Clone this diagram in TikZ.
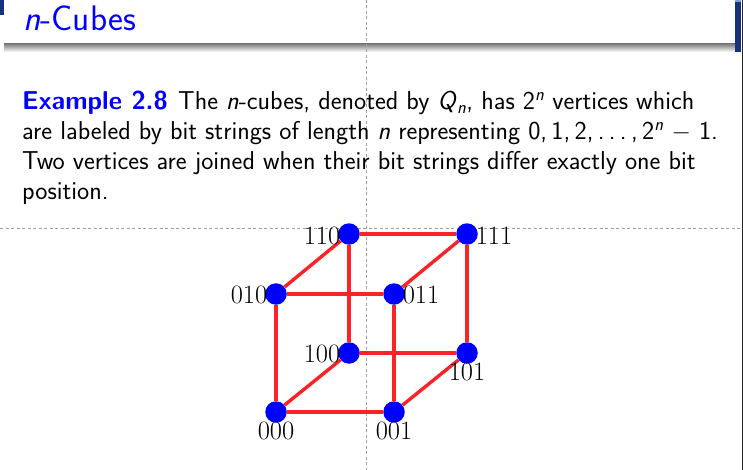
\documentclass[tikz,border=0pt]{standalone}
\usetikzlibrary{calc}
\definecolor{barblue}{RGB}{24,48,128}
\definecolor{barlight}{RGB}{110,170,225}
\definecolor{guide}{RGB}{160,160,160}
\definecolor{edgered}{RGB}{250,35,40}
\newcommand{\bodysize}{\fontsize{25.85}{30}\selectfont\sffamily}
\tikzset{
  x=1pt,y=-1pt,
  vertexdot/.style={circle,fill=blue,draw=none,minimum size=21.5pt,inner sep=0pt},
  cubeedge/.style={draw=edgered,line width=3.4pt},
  guideline/.style={draw=guide,line width=0.7pt,dash pattern=on 3pt off 2.5pt},
  bodyline/.style={anchor=base west,inner sep=0pt,font=\bodysize,text=black},
  vlabel/.style={inner sep=0pt,font=\fontsize{26.5}{26.5}\selectfont,text=black,anchor=base}
}
\begin{document}
\begin{tikzpicture}
\useasboundingbox (0,0) rectangle (743,470);
\fill[white] (0,0) rectangle (743,470);
% header
\shade[top color=black!50,bottom color=white] (4,44) rectangle (735,52);
\fill[barblue] (0,0) rectangle (4,15);
\fill[barblue] (735,2) rectangle (741,52);
\fill[barlight] (735,0) rectangle (741,2);
\fill[black!85] (741.5,0) rectangle (743,470);
% guides
\coordinate (gt) at (366,0); \coordinate (gb) at (366,470);
\coordinate (gl) at (0,228); \coordinate (gr) at (743,228);
\draw[guideline] (gt) -- (gb);
\draw[guideline] (gl) -- (gr);
% title
\node[anchor=base west,inner sep=0pt,text=blue,font=\fontsize{35.5}{36}\selectfont\sffamily] (title) at (23,31) {\textit{n}-Cubes};
% body
\node[bodyline] (l1) at (22,110) {\textcolor{blue}{\textbf{Example 2.8}}\hspace{.4em}The \textit{n}-cubes, denoted by \textit{Q}\textsubscript{\textit{n}}, has 2\textsuperscript{\textit{n}} vertices which};
\node[bodyline] (l2) at (22,140) {are labeled by bit strings of length \textit{n} representing 0,\,1,\,2,\,.\,.\,.\,,\,2\textsuperscript{\textit{n}} $-$ 1.};
\node[bodyline] (l3) at (22,170) {Two vertices are joined when their bit strings differ exactly one bit};
\node[bodyline] (l4) at (22,200) {position.};
% vertices
\node[vertexdot] (v000) at (276,412) {};
\node[vertexdot] (v001) at (394,412) {};
\node[vertexdot] (v010) at (276,294) {};
\node[vertexdot] (v011) at (394,294) {};
\node[vertexdot] (v100) at (349,353) {};
\node[vertexdot] (v101) at (467,353) {};
\node[vertexdot] (v110) at (349,234) {};
\node[vertexdot] (v111) at (467,234) {};
% edges
\draw[cubeedge] (v000) -- (v001);
\draw[cubeedge] (v000) -- (v010);
\draw[cubeedge] (v000) -- (v100);
\draw[cubeedge] (v001) -- (v011);
\draw[cubeedge] (v001) -- (v101);
\draw[cubeedge] (v010) -- (v011);
\draw[cubeedge] (v010) -- (v110);
\draw[cubeedge] (v011) -- (v111);
\draw[cubeedge] (v100) -- (v101);
\draw[cubeedge] (v100) -- (v110);
\draw[cubeedge] (v101) -- (v111);
\draw[cubeedge] (v110) -- (v111);
% labels
\node[vlabel] (t110) at (322,244) {110};
\node[vlabel] (t111) at (494,244) {111};
\node[vlabel] (t010) at (249,303) {010};
\node[vlabel] (t011) at (421,303) {011};
\node[vlabel] (t100) at (322,362) {100};
\node[vlabel] (t101) at (467,380) {101};
\node[vlabel] (t000) at (276,439) {000};
\node[vlabel] (t001) at (394,439) {001};
\end{tikzpicture}
\end{document}
